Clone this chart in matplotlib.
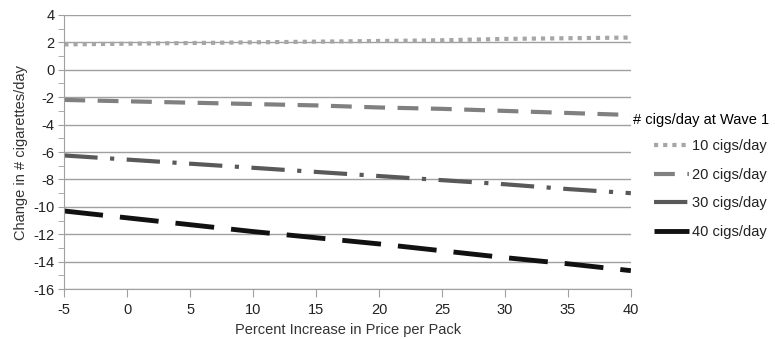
import numpy as np
import matplotlib.pyplot as plt
from matplotlib.ticker import MultipleLocator

price_pct = [-5, 0, 5, 10, 15, 20, 25, 30, 35, 40]
cigs_10 = [1.85, 1.9, 1.95, 2.0, 2.05, 2.1, 2.15, 2.25, 2.3, 2.35]
cigs_20 = [-2.2, -2.3, -2.4, -2.5, -2.6, -2.75, -2.85, -3.0, -3.15, -3.3]
cigs_30 = [-6.25, -6.55, -6.85, -7.15, -7.45, -7.75, -8.05, -8.35, -8.7, -9.0]
cigs_40 = [-10.3, -10.8, -11.3, -11.8, -12.25, -12.7, -13.2, -13.7, -14.15, -14.65]
labels = ['10 cigs/day', '20 cigs/day', '30 cigs/day', '40 cigs/day']

plt.rcParams['font.family'] = ['Liberation Sans', 'DejaVu Sans']
plt.rcParams['axes.unicode_minus'] = False

fig = plt.figure(figsize=(7.75, 3.39), dpi=100)
ax = fig.add_axes([0.083, 0.147, 0.731, 0.809])

grid_c = '#a0a0a0'
fs = 10.5
ax.plot(price_pct, cigs_10, color='#a6a6a6', lw=3, linestyle=(0, (1, 1.2)), label=labels[0])
ax.plot(price_pct, cigs_20, color='#808080', lw=3, linestyle=(0, (5, 3)), label=labels[1])
ax.plot(price_pct, cigs_30, color='#595959', lw=3, linestyle=(0, (8, 3, 1, 3)), label=labels[2])
ax.plot(price_pct, cigs_40, color='#111111', lw=3.5, linestyle=(0, (8, 3.5)), label=labels[3])

ax.set_xlim(-5, 40)
ax.set_ylim(-16, 4)
ax.set_xticks(np.arange(-5, 41, 5))
ax.set_yticks(np.arange(-16, 5, 2))
ax.yaxis.set_minor_locator(MultipleLocator(1))
ax.yaxis.grid(True, which='major', color=grid_c, lw=1)
ax.set_axisbelow(True)

for side in ['top', 'right']:
    ax.spines[side].set_visible(False)
for side in ['left', 'bottom']:
    ax.spines[side].set_color(grid_c)
ax.tick_params(axis='both', which='both', color=grid_c, labelsize=fs, labelcolor='#222222')
ax.tick_params(axis='y', which='both', length=4, pad=3)
ax.tick_params(axis='x', length=6, pad=4)

ax.set_xlabel('Percent Increase in Price per Pack', fontsize=fs, color='#333333')
ax.set_ylabel('Change in # cigarettes/day', fontsize=fs, color='#333333')

fig.text(0.992, 0.646, '# cigs/day at Wave 1', ha='right', va='center',
         fontsize=fs, color='#000000')
leg = ax.legend(loc='center left', bbox_to_anchor=(0.827, 0.442),
                bbox_transform=fig.transFigure, frameon=False, fontsize=fs,
                handlelength=2.4, handletextpad=0.2, labelspacing=1.0)
for t in leg.get_texts():
    t.set_color('#222222')

fig.savefig('out.png', dpi=100)
